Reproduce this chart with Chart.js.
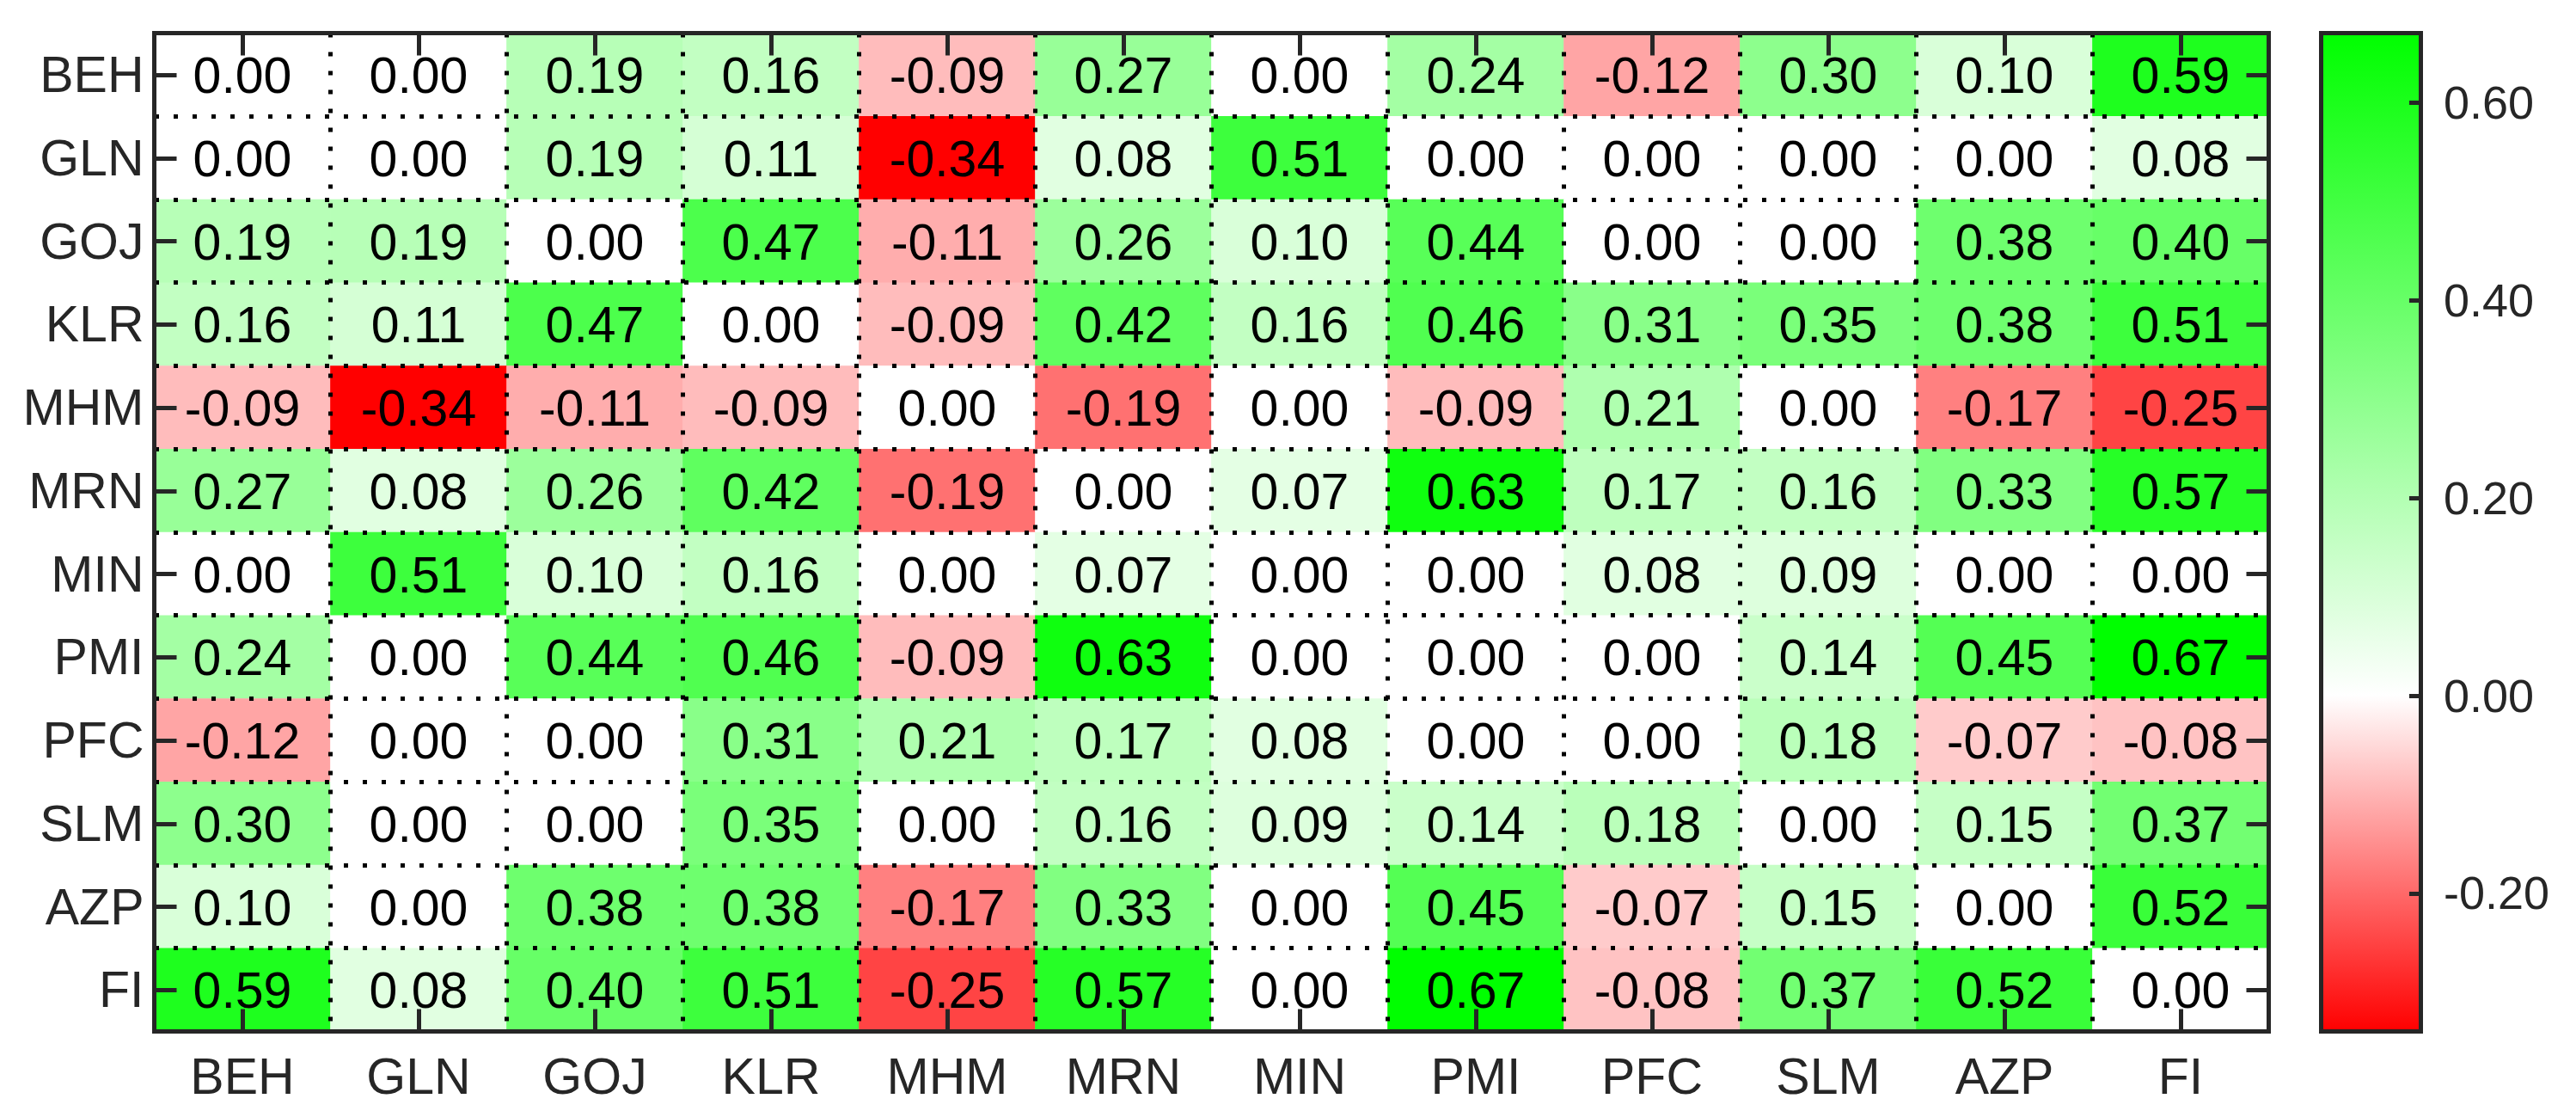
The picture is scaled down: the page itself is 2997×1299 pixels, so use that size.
<!DOCTYPE html>
<html lang="en">
<head>
<meta charset="UTF-8">
<title>Correlation heatmap</title>
<script src="https://cdn.jsdelivr.net/npm/chart.js@4.4.0/dist/chart.umd.min.js"></script>
<style>
    html, body { margin: 0; padding: 0; background: #fff; overflow: hidden; }
    #heat { position: absolute; left: 0; top: 0; }
    #bar { position: absolute; left: 2690px; top: 0; }
</style>
</head>
<body>
<canvas id="heat" width="2680" height="1299"></canvas>
<canvas id="bar" width="307" height="1299"></canvas>

<script>
    // row / column names (same order on both axes)
    const names = ['BEH', 'GLN', 'GOJ', 'KLR', 'MHM', 'MRN', 'MIN', 'PMI', 'PFC', 'SLM', 'AZP', 'FI'];

    // one array per row
    const BEH = [0.00, 0.00, 0.19, 0.16, -0.09, 0.27, 0.00, 0.24, -0.12, 0.30, 0.10, 0.59];
    const GLN = [0.00, 0.00, 0.19, 0.11, -0.34, 0.08, 0.51, 0.00, 0.00, 0.00, 0.00, 0.08];
    const GOJ = [0.19, 0.19, 0.00, 0.47, -0.11, 0.26, 0.10, 0.44, 0.00, 0.00, 0.38, 0.40];
    const KLR = [0.16, 0.11, 0.47, 0.00, -0.09, 0.42, 0.16, 0.46, 0.31, 0.35, 0.38, 0.51];
    const MHM = [-0.09, -0.34, -0.11, -0.09, 0.00, -0.19, 0.00, -0.09, 0.21, 0.00, -0.17, -0.25];
    const MRN = [0.27, 0.08, 0.26, 0.42, -0.19, 0.00, 0.07, 0.63, 0.17, 0.16, 0.33, 0.57];
    const MIN = [0.00, 0.51, 0.10, 0.16, 0.00, 0.07, 0.00, 0.00, 0.08, 0.09, 0.00, 0.00];
    const PMI = [0.24, 0.00, 0.44, 0.46, -0.09, 0.63, 0.00, 0.00, 0.00, 0.14, 0.45, 0.67];
    const PFC = [-0.12, 0.00, 0.00, 0.31, 0.21, 0.17, 0.08, 0.00, 0.00, 0.18, -0.07, -0.08];
    const SLM = [0.30, 0.00, 0.00, 0.35, 0.00, 0.16, 0.09, 0.14, 0.18, 0.00, 0.15, 0.37];
    const AZP = [0.10, 0.00, 0.38, 0.38, -0.17, 0.33, 0.00, 0.45, -0.07, 0.15, 0.00, 0.52];
    const FI  = [0.59, 0.08, 0.40, 0.51, -0.25, 0.57, 0.00, 0.67, -0.08, 0.37, 0.52, 0.00];

    // colour bar limits and ticks
    const cMin = -0.34;
    const cMax = 0.67;
    const cbTicks = [-0.2, 0.0, 0.2, 0.4, 0.6];

    const rows = [BEH, GLN, GOJ, KLR, MHM, MRN, MIN, PMI, PFC, SLM, AZP, FI];
    const axisColor = '#262626';

    Chart.defaults.font.family = '"Liberation Sans", Arial, sans-serif';

    // white -> green above zero, white -> red below
    function cellColor(v) {
        var t, c;
        if (v >= 0) {
            t = Math.min(v / cMax, 1);
            c = Math.round(255 * (1 - t));
            return 'rgb(' + c + ',255,' + c + ')';
        }
        t = Math.min(v / cMin, 1);
        c = Math.round(255 * (1 - t));
        return 'rgb(255,' + c + ',' + c + ')';
    }

    // stacked bars of height 1, bottom row first so BEH ends on top
    var datasets = [];
    for (var k = rows.length - 1; k >= 0; k--) {
        datasets.push({
            label: names[k],
            data: rows[k].map(function () { return 1; }),
            values: rows[k],
            backgroundColor: rows[k].map(cellColor),
            borderWidth: 0,
            barPercentage: 1,
            categoryPercentage: 1,
            yAxisID: 'y'
        });
    }

    const dots = [5, 17];

    // numbers in the cells, frame and inward ticks
    const heatDecor = {
        id: 'heatDecor',
        afterDatasetsDraw(chart) {
            const ctx = chart.ctx;
            ctx.save();
            ctx.fillStyle = '#000';
            ctx.font = '59px "Liberation Sans", Arial, sans-serif';
            ctx.textAlign = 'center';
            ctx.textBaseline = 'middle';
            chart.data.datasets.forEach(function (ds, i) {
                chart.getDatasetMeta(i).data.forEach(function (bar, j) {
                    ctx.fillText(ds.values[j].toFixed(2), bar.x, (bar.y + bar.base) / 2 + 5);
                });
            });
            ctx.restore();
        },
        afterDraw(chart) {
            const ctx = chart.ctx;
            const a = chart.chartArea;
            const xs = chart.scales.x;
            const ys = chart.scales.yc;
            const len = 26;
            ctx.save();
            ctx.strokeStyle = axisColor;
            ctx.lineWidth = 5;
            ctx.beginPath();
            xs.ticks.forEach(function (t, i) {
                var x = Math.round(xs.getPixelForTick(i)) + 0.5;
                ctx.moveTo(x, a.top); ctx.lineTo(x, a.top + len);
                ctx.moveTo(x, a.bottom); ctx.lineTo(x, a.bottom - len);
            });
            ys.ticks.forEach(function (t, i) {
                var y = Math.round(ys.getPixelForTick(i)) + 0.5;
                ctx.moveTo(a.left, y); ctx.lineTo(a.left + len, y);
                ctx.moveTo(a.right, y); ctx.lineTo(a.right - len, y);
            });
            ctx.stroke();
            ctx.strokeRect(a.left, a.top, a.right - a.left, a.bottom - a.top);
            ctx.restore();
        }
    };

    new Chart(document.getElementById('heat'), {
        type: 'bar',
        data: { labels: names, datasets: datasets },
        options: {
            responsive: false,
            animation: false,
            events: [],
            devicePixelRatio: 1,
            layout: { padding: { left: 0, top: 38.5, right: 40.5, bottom: 0 } },
            plugins: { legend: { display: false }, tooltip: { enabled: false } },
            scales: {
                y: { stacked: true, min: 0, max: 12, display: false },
                yc: {
                    type: 'category',
                    position: 'left',
                    labels: names,
                    offset: true,
                    grid: { offset: true, color: '#000', lineWidth: 5, drawTicks: false, z: 1 },
                    border: { display: false, dash: dots },
                    ticks: { padding: 12, labelOffset: 4, color: axisColor, font: { size: 59 }, autoSkip: false },
                    afterFit(s) { s.width = 179.5; s.paddingTop = 0; s.paddingBottom = 0; }
                },
                x: {
                    type: 'category',
                    stacked: true,
                    offset: true,
                    grid: { offset: true, color: '#000', lineWidth: 5, drawTicks: false, z: 1 },
                    border: { display: false, dash: dots },
                    ticks: { padding: 21, color: axisColor, font: { size: 59 }, autoSkip: false, maxRotation: 0 },
                    afterFit(s) { s.height = 99.5; s.paddingLeft = 0; s.paddingRight = 0; }
                }
            }
        },
        plugins: [heatDecor]
    });

    // colour bar
    function barGradient(context) {
        const chart = context.chart;
        const ys = chart.scales.y;
        if (!chart.chartArea || !ys) return '#fff';
        const top = ys.getPixelForValue(cMax);
        const bottom = ys.getPixelForValue(cMin);
        const g = chart.ctx.createLinearGradient(0, top, 0, bottom);
        g.addColorStop(0, cellColor(cMax));
        g.addColorStop((ys.getPixelForValue(0) - top) / (bottom - top), '#fff');
        g.addColorStop(1, cellColor(cMin));
        return g;
    }

    const barDecor = {
        id: 'barDecor',
        afterDraw(chart) {
            const ctx = chart.ctx;
            const a = chart.chartArea;
            const ys = chart.scales.y;
            ctx.save();
            ctx.strokeStyle = axisColor;
            ctx.lineWidth = 5;
            ctx.beginPath();
            cbTicks.forEach(function (v) {
                var y = Math.round(ys.getPixelForValue(v)) + 0.5;
                ctx.moveTo(a.right, y); ctx.lineTo(a.right - 13.5, y);
            });
            ctx.stroke();
            ctx.strokeRect(a.left, a.top, a.right - a.left, a.bottom - a.top);
            ctx.restore();
        }
    };

    new Chart(document.getElementById('bar'), {
        type: 'bar',
        data: {
            labels: ['scale'],
            datasets: [{
                data: [[cMin, cMax]],
                backgroundColor: barGradient,
                borderWidth: 0,
                barPercentage: 1,
                categoryPercentage: 1
            }]
        },
        options: {
            responsive: false,
            animation: false,
            events: [],
            devicePixelRatio: 1,
            layout: { padding: { left: 10.5, top: 38.5, right: 0, bottom: 99.5 } },
            plugins: { legend: { display: false }, tooltip: { enabled: false } },
            scales: {
                x: { display: false },
                y: {
                    position: 'right',
                    min: cMin,
                    max: cMax,
                    grid: { display: false, drawTicks: false },
                    border: { display: false },
                    ticks: {
                        padding: 26.5,
                        labelOffset: 4,
                        color: axisColor,
                        font: { size: 54 },
                        callback: function (v) { return Number(v).toFixed(2); }
                    },
                    afterBuildTicks(s) { s.ticks = cbTicks.map(function (v) { return { value: v }; }); },
                    afterFit(s) { s.width = 180.5; s.paddingTop = 0; s.paddingBottom = 0; }
                }
            }
        },
        plugins: [barDecor]
    });
</script>
</body>
</html>
